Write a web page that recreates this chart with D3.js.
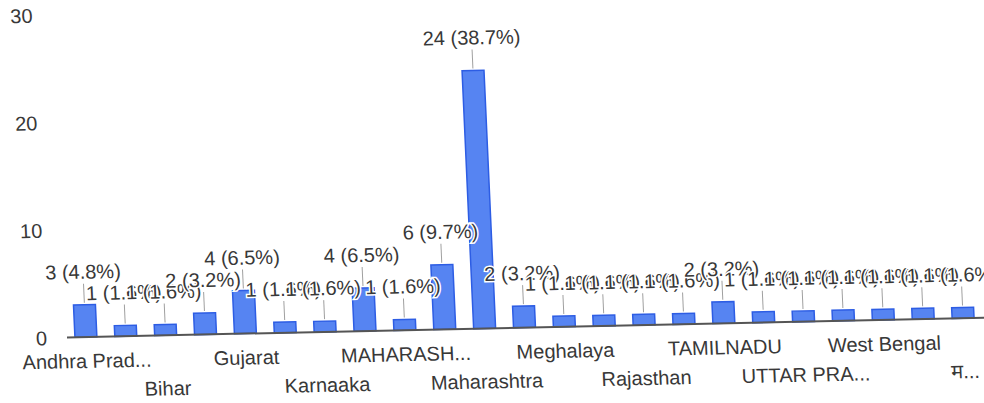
<!DOCTYPE html>
<html>
<head>
<meta charset="utf-8">
<script src="https://cdn.jsdelivr.net/npm/d3@7"></script>
<style>
  html, body { margin: 0; padding: 0; background: #ffffff; }
  svg { display: block; }
  text { font-family: "Liberation Sans", Arial, "Noto Sans", "Noto Sans Devanagari", sans-serif; }
</style>
</head>
<body>
<svg id="chart" width="984" height="403"></svg>
<script>
// ---- data ----
const categories = [
  "Andhra Pradesh", "Assam", "Bihar", "Delhi", "Gujarat", "Haryana",
  "Karnaaka", "Karnataka", "MAHARASHTRA", "Madhya Pradesh", "Maharashtra",
  "Manipur", "Meghalaya", "Odisha", "Rajasthan", "Sikkim", "TAMILNADU",
  "Tamil Nadu", "UTTAR PRADESH", "Uttar Pradesh", "West Bengal", "West bengal",
  "महाराष्ट्र"
];
const values = [3, 1, 1, 2, 4, 1, 1, 4, 1, 6, 24, 2, 1, 1, 1, 1, 2, 1, 1, 1, 1, 1, 1];
// labels shown under the axis (Google Charts skips / truncates some)
const axisLabels = [
  "Andhra Prad...", "", "Bihar", "", "Gujarat", "", "Karnaaka", "",
  "MAHARASH...", "", "Maharashtra", "", "Meghalaya", "", "Rajasthan", "",
  "TAMILNADU", "", "UTTAR PRA...", "", "West Bengal", "", "म..."
];
const yTicks = [0, 10, 20, 30];

// ---- layout ----
const svg = d3.select("#chart");
const total = d3.sum(values);

// the reference is a slightly skewed photograph: emulate with an affine transform
const g = svg.append("g")
  .attr("transform", "matrix(1,-0.0214,0.045,1,-15.17,1.84)");

const x = d3.scaleBand()
  .domain(categories)
  .range([57, 992])
  .paddingInner(0.45)
  .paddingOuter(0.45);

const y = d3.scaleLinear()
  .domain([0, 30])
  .range([337, 14.5]);

const textColor = "#383838";

// y axis tick labels (no gridlines visible)
const yAxis = d3.axisLeft(y).tickValues(yTicks).tickSize(0).tickPadding(0);
const ya = g.append("g").attr("transform", "translate(47,0)").call(yAxis);
ya.select(".domain").remove();
ya.selectAll("text")
  .attr("font-size", 20)
  .attr("fill", textColor)
  .attr("dy", "0.35em");

// bars
g.append("g").selectAll("rect")
  .data(values)
  .join("rect")
  .attr("x", (d, i) => x(categories[i]))
  .attr("y", d => y(d))
  .attr("width", x.bandwidth())
  .attr("height", d => y(0) - y(d))
  .attr("fill", "#5684f2")
  .attr("stroke", "#2d5de4")
  .attr("stroke-width", 1.5);

// baseline
g.append("line")
  .attr("x1", 67).attr("x2", 995)
  .attr("y1", y(0)).attr("y2", y(0))
  .attr("stroke", "#555")
  .attr("stroke-width", 2);

// annotation stems
g.append("g").selectAll("line")
  .data(values)
  .join("line")
  .attr("x1", (d, i) => x(categories[i]) + x.bandwidth() / 2)
  .attr("x2", (d, i) => x(categories[i]) + x.bandwidth() / 2)
  .attr("y1", d => y(d) - 21)
  .attr("y2", d => y(d) - 2)
  .attr("stroke", "#a0a0a0")
  .attr("stroke-width", 1);

// annotations with white halo
g.append("g").selectAll("text")
  .data(values)
  .join("text")
  .attr("x", (d, i) => x(categories[i]) + x.bandwidth() / 2)
  .attr("y", d => y(d) - 26)
  .attr("text-anchor", "middle")
  .attr("font-size", 20)
  .attr("fill", textColor)
  .attr("stroke", "#ffffff")
  .attr("stroke-width", 3)
  .attr("paint-order", "stroke")
  .text(d => `${d} (${(d / total * 100).toFixed(1)}%)`);

// category labels, staggered in two rows
let shown = 0;
const rows = axisLabels.map((t) => (t ? (shown++ % 2) : -1));
g.append("g").selectAll("text")
  .data(categories)
  .join("text")
  .filter((d, i) => axisLabels[i] !== "")
  .attr("x", d => x(d) + x.bandwidth() / 2)
  .attr("y", d => rows[categories.indexOf(d)] === 0 ? 368 : 397)
  .attr("text-anchor", "middle")
  .attr("font-size", 20)
  .attr("fill", textColor)
  .text(d => axisLabels[categories.indexOf(d)]);
</script>
</body>
</html>
